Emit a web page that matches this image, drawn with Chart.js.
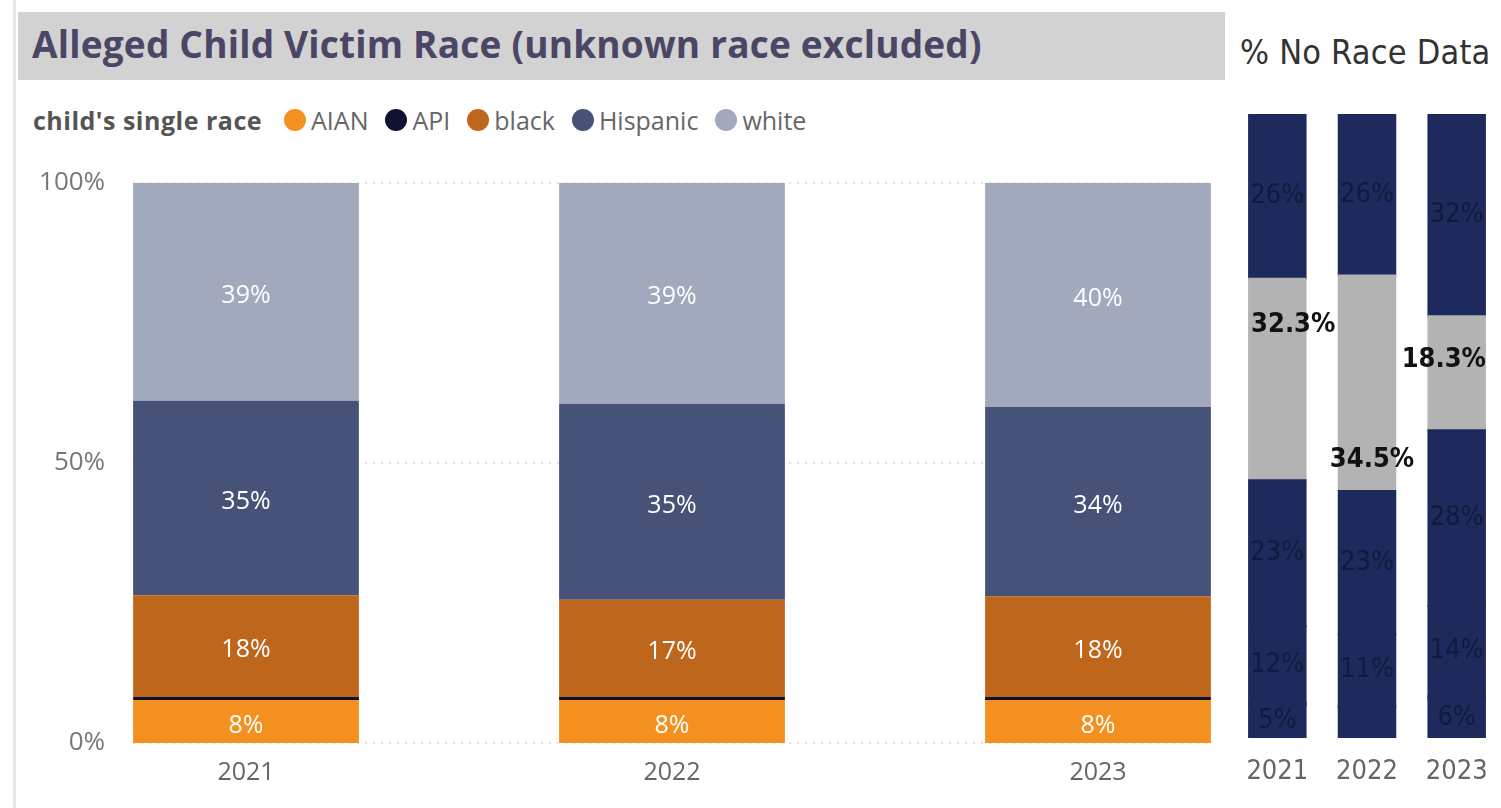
<!DOCTYPE html>
<html lang="en">
<head>
  <meta charset="UTF-8" />
  <title>Alleged Child Victim Race</title>
  <style>
    html, body { margin: 0; padding: 0; background: #fff; }
    body {
      width: 1501px;
      height: 808px;
      position: relative;
      overflow: hidden;
      font-family: "Open Sans", "Noto Sans", sans-serif;
    }
    .edge { position: absolute; left: 13px; top: 0; width: 3px; height: 808px; background: #e8e8e8; }
    .titlebar { position: absolute; left: 18px; top: 12px; width: 1207px; height: 68px; background: #d2d2d2; }
    .titlebar h1 {
      margin: 0;
      position: absolute;
      left: 14px;
      top: 50%;
      transform: translateY(-54%);
      font-size: 37px;
      font-weight: 700;
      color: #4b4566;
      white-space: nowrap;
      letter-spacing: 0.2px;
    }
    .side-title {
      position: absolute;
      left: 1240px;
      top: 32px;
      font-family: "Liberation Sans Narrow", "DejaVu Sans Condensed", sans-serif;
      font-size: 34px;
      color: #333;
      letter-spacing: 0.2px;
      white-space: nowrap;
    }
    .legend {
      position: absolute;
      left: 33px;
      top: 103px;
      display: flex;
      align-items: center;
      font-size: 25px;
      color: #666;
      white-space: nowrap;
    }
    .legend .lt { font-weight: 700; color: #555; margin-right: 22px; font-size: 25px; letter-spacing: 0.5px; }
    .legend .item { display: flex; align-items: center; margin-right: 17px; }
    .legend .dot { width: 22px; height: 22px; border-radius: 50%; margin-right: 5px; }
    #leftWrap { position: absolute; left: 0; top: 150px; }
    #rightWrap { position: absolute; left: 1229px; top: 90px; }
  </style>
</head>
<body>
  <div class="edge"></div>
  <div class="titlebar"><h1>Alleged Child Victim Race (unknown race excluded)</h1></div>
  <div class="side-title">% No Race Data</div>
  <div class="legend" id="legend"><span class="lt">child's single race</span></div>
  <div id="leftWrap"><canvas id="raceChart" width="1320" height="658"></canvas></div>
  <div id="rightWrap"><canvas id="noRaceChart" width="276" height="718"></canvas></div>

  <script src="https://cdn.jsdelivr.net/npm/chart.js"></script>
  <script>
    // años y razas
    const years = ['2021', '2022', '2023'];
    const races = ['AIAN', 'API', 'black', 'Hispanic', 'white'];
    const raceColors = ['#f39020', '#0f1230', '#bd661c', '#465277', '#a3a9bd'];

    // % of children with known race
    const aian = [7.7, 7.7, 7.7];
    const api = [0.5, 0.5, 0.5];
    const black = [18.2, 17.4, 18.0];
    const hispanic = [34.7, 35.0, 33.8];
    const white = [38.9, 39.4, 40.0];
    const yTicks = [0, 50, 100];

    // % of all children, unknown race included
    const allAian = [5.3, 4.9, 6.3];
    const allApi = [0.3, 0.3, 0.4];
    const allBlack = [12.3, 11.4, 14.4];
    const allHispanic = [23.4, 23.0, 28.2];
    const noRace = [32.3, 34.5, 18.3];
    const allWhite = [26.4, 25.9, 32.4];

    const uiFont = '"Open Sans", "Noto Sans", sans-serif';
    const narrowFont = '"Liberation Sans Narrow", "DejaVu Sans Condensed", sans-serif';
    const navy = '#1e2a5c';
    const grey = '#b3b3b3';

    // leyenda
    const legend = document.getElementById('legend');
    races.forEach((r, i) => {
      const item = document.createElement('span');
      item.className = 'item';
      item.innerHTML = `<span class="dot" style="background:${raceColors[i]}"></span>${r}`;
      legend.appendChild(item);
    });

    // y ticks + dotted grid, only across the bars
    const yAxisInside = {
      id: 'yAxisInside',
      beforeDatasetsDraw(chart) {
        const ctx = chart.ctx;
        const y = chart.scales.y;
        const bars = chart.getDatasetMeta(0).data;
        const x0 = bars[0].x - bars[0].width / 2;
        const x1 = bars[bars.length - 1].x + bars[bars.length - 1].width / 2;
        ctx.save();
        yTicks.forEach(t => {
          const py = y.getPixelForValue(t);
          ctx.strokeStyle = '#d6d6d6';
          ctx.lineWidth = 1.5;
          ctx.setLineDash([2, 6]);
          ctx.beginPath();
          ctx.moveTo(x0, py);
          ctx.lineTo(x1, py);
          ctx.stroke();
          ctx.fillStyle = '#777';
          ctx.font = `26px ${uiFont}`;
          ctx.textAlign = 'right';
          ctx.textBaseline = 'middle';
          ctx.fillText(t + '%', x0 - 28, py);
        });
        ctx.restore();
      }
    };

    const segmentLabels = {
      id: 'segmentLabels',
      afterDatasetsDraw(chart) {
        const ctx = chart.ctx;
        ctx.save();
        ctx.font = `25px ${uiFont}`;
        ctx.fillStyle = '#fff';
        ctx.textAlign = 'center';
        ctx.textBaseline = 'middle';
        chart.data.datasets.forEach((ds, di) => {
          chart.getDatasetMeta(di).data.forEach((bar, i) => {
            const v = ds.data[i];
            if (v < 3) return;
            ctx.fillText(Math.round(v) + '%', bar.x, (bar.y + bar.base) / 2 + 4);
          });
        });
        ctx.restore();
      }
    };

    new Chart(document.getElementById('raceChart'), {
      type: 'bar',
      data: {
        labels: years,
        datasets: [aian, api, black, hispanic, white].map((d, i) => ({
          label: races[i],
          data: d,
          backgroundColor: raceColors[i],
          borderWidth: 0,
          barPercentage: 0.53,
          categoryPercentage: 1
        }))
      },
      options: {
        responsive: false,
        animation: false,
        layout: { padding: { left: 33, right: 9, top: 33, bottom: 0 } },
        plugins: { legend: { display: false }, tooltip: { enabled: false } },
        scales: {
          x: {
            stacked: true,
            grid: { display: false, drawTicks: false },
            border: { display: false },
            ticks: { color: '#666', font: { family: uiFont, size: 25 }, padding: 15 },
            afterFit: s => { s.height = 65; }
          },
          y: { stacked: true, display: false, min: 0, max: 100 }
        }
      },
      plugins: [yAxisInside, segmentLabels]
    });

    // right chart labels
    const noRaceLabels = {
      id: 'noRaceLabels',
      afterDatasetsDraw(chart) {
        const ctx = chart.ctx;
        ctx.save();
        ctx.textBaseline = 'middle';
        chart.data.datasets.forEach((ds, di) => {
          chart.getDatasetMeta(di).data.forEach((bar, i) => {
            const v = ds.data[i];
            if (v < 5) return;
            const mid = (bar.y + bar.base) / 2;
            if (ds.label === 'unknown') {
              ctx.font = `bold 27px ${narrowFont}`;
              ctx.fillStyle = '#111';
              const txt = v.toFixed(1) + '%';
              if (i === 0) {
                ctx.textAlign = 'left';
                ctx.fillText(txt, bar.x - bar.width / 2 + 2, bar.y + 46);
              } else if (i === 1) {
                ctx.textAlign = 'center';
                ctx.fillText(txt, bar.x + 5, bar.base - 31);
              } else {
                ctx.textAlign = 'right';
                ctx.fillText(txt, bar.x + bar.width / 2 + 1, mid - 13);
              }
            } else {
              ctx.font = `27px ${narrowFont}`;
              ctx.fillStyle = '#111a3e';
              ctx.textAlign = 'center';
              ctx.fillText(Math.round(v) + '%', bar.x, mid);
            }
          });
        });
        ctx.restore();
      }
    };

    const rightSeries = [allAian, allApi, allBlack, allHispanic, noRace, allWhite];
    const rightNames = ['AIAN', 'API', 'black', 'Hispanic', 'unknown', 'white'];

    new Chart(document.getElementById('noRaceChart'), {
      type: 'bar',
      data: {
        labels: years,
        datasets: rightSeries.map((d, i) => ({
          label: rightNames[i],
          data: d,
          backgroundColor: rightNames[i] === 'unknown' ? grey : navy,
          borderWidth: 0,
          inflateAmount: 1,
          barPercentage: 0.63,
          categoryPercentage: 1
        }))
      },
      options: {
        responsive: false,
        animation: false,
        layout: { padding: { left: 0, right: 0, top: 24, bottom: 0 } },
        plugins: { legend: { display: false }, tooltip: { enabled: false } },
        scales: {
          x: {
            stacked: true,
            grid: { display: false, drawTicks: false },
            border: { display: false },
            ticks: { color: '#666', font: { family: narrowFont, size: 27 }, padding: 18 },
            afterFit: s => { s.height = 70; }
          },
          y: { stacked: true, display: false, min: 0, max: 100 }
        }
      },
      plugins: [noRaceLabels]
    });
  </script>
</body>
</html>
